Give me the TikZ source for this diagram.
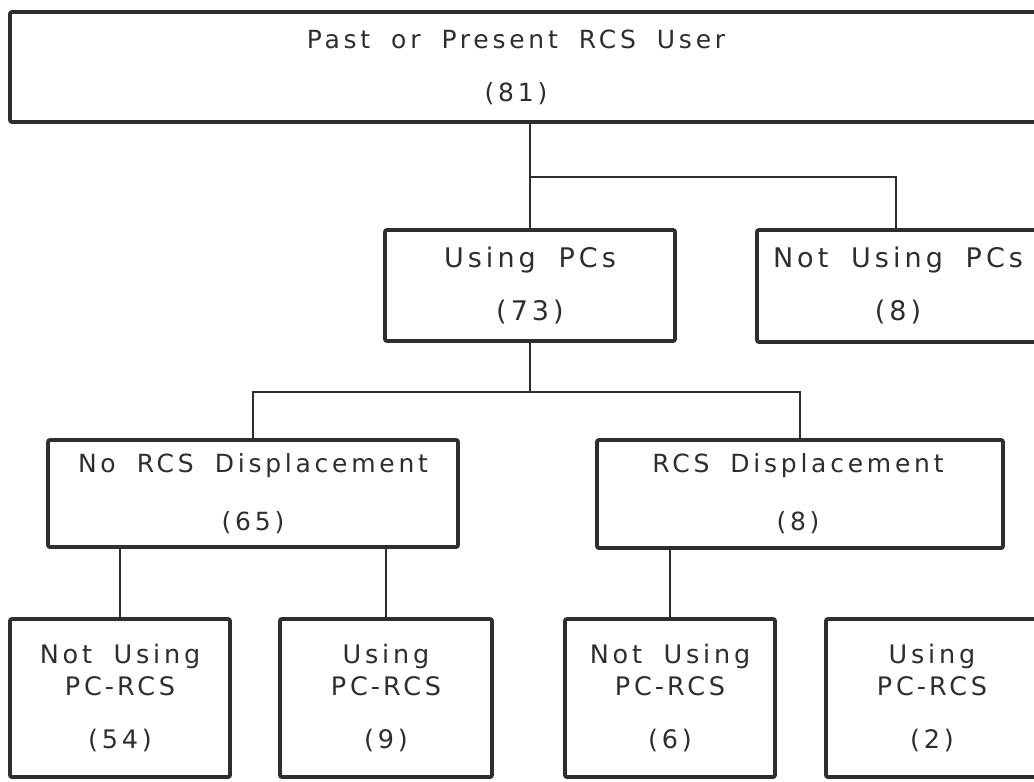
\documentclass[tikz,border=0pt]{standalone}
\usepackage{fontspec}
\setmainfont{DejaVu Sans}[LetterSpace=15,WordSpace=1.8]
\usetikzlibrary{calc}
\definecolor{ink}{HTML}{2E2E2E}
\newcommand{\pcrcs}{PC\kern3pt-\kern3pt RCS}
\begin{document}
\begin{tikzpicture}[x=1pt,y=-1pt,
  box/.style={draw=ink, line width=3.8pt, rounded corners=2pt, inner sep=0pt},
  conn/.style={draw=ink, line width=2.4pt},
  lbl/.style={align=center, text=ink, inner sep=0pt, font=\fontsize{25}{53}\selectfont},
  lblbig/.style={align=center, text=ink, inner sep=0pt, font=\fontsize{27}{53}\selectfont},
  lblmid/.style={align=center, text=ink, inner sep=0pt, font=\fontsize{25}{58}\selectfont},
  lblsm/.style={align=center, text=ink, inner sep=0pt, font=\fontsize{25.5}{32}\selectfont}]
\useasboundingbox[fill=white] (0,0) rectangle (1034,782);

% boxes
\node[box, minimum width=1035pt, minimum height=110pt] (top) at (527.5,67) {};
\node[lbl] (toptxt) at (516,67) {Past or Present RCS User\\(81)};

\node[box, minimum width=290pt, minimum height=111pt] (usepcs) at (530,285.5) {};
\node[lblbig] (usepcstxt) at (usepcs.center) {Using PCs\\(73)};

\node[box, minimum width=288pt, minimum height=112pt] (notpcs) at (901,286) {};
\node[lblbig] (notpcstxt) at (898,286) {Not Using PCs\\(8)};

\node[box, minimum width=410pt, minimum height=107pt] (norcs) at (253,493.5) {};
\node[lblmid] (norcstxt) at (norcs.center) {No RCS Displacement\\(65)};

\node[box, minimum width=406pt, minimum height=108pt] (rcs) at (800,494) {};
\node[lblmid] (rcstxt) at (798,494) {RCS Displacement\\(8)};

\node[box, minimum width=220pt, minimum height=158pt] (b1) at (120,698) {};
\node[lblsm] (b1txt) at (b1.center) {Not Using\\\pcrcs\\[21pt](54)};

\node[box, minimum width=212pt, minimum height=158pt] (b2) at (386,698) {};
\node[lblsm] (b2txt) at (b2.center) {Using\\\pcrcs\\[21pt](9)};

\node[box, minimum width=210pt, minimum height=158pt] (b3) at (670,698) {};
\node[lblsm] (b3txt) at (b3.center) {Not Using\\\pcrcs\\[21pt](6)};

\node[box, minimum width=219pt, minimum height=158pt] (b4) at (935.5,698) {};
\node[lblsm] (b4txt) at (932,698) {Using\\\pcrcs\\[21pt](2)};

% connectors
\coordinate (j1) at (530,177);
\coordinate (j2) at (530,392);
\draw[conn] (usepcs.north |- top.south) -- (usepcs.north);
\draw[conn] (j1) -| ([xshift=-5pt]notpcs.north);
\draw[conn] (usepcs.south) -- (j2);
\draw[conn] (norcs.north) |- (j2) -| (rcs.north);
\draw[conn] (b1.north |- norcs.south) -- (b1.north);
\draw[conn] (b2.north |- norcs.south) -- (b2.north);
\draw[conn] (b3.north |- rcs.south) -- (b3.north);
\end{tikzpicture}
\end{document}
